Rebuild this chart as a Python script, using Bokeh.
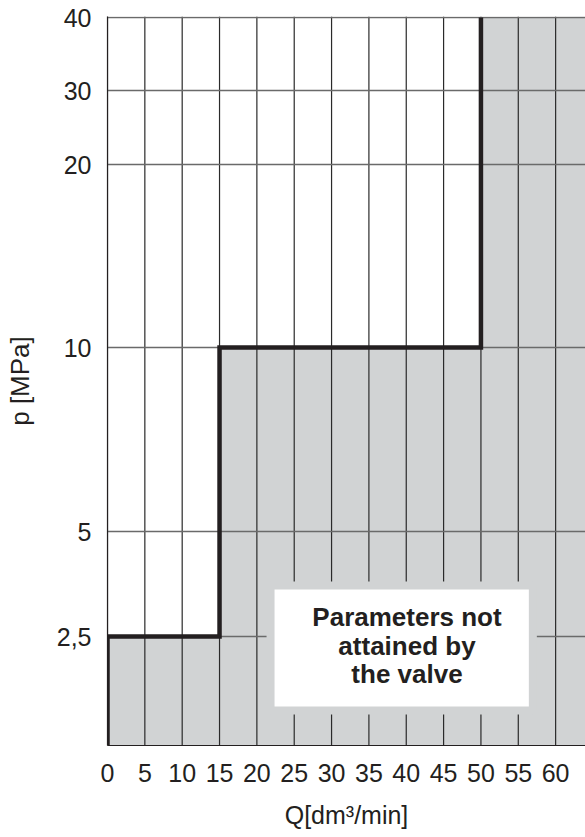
import numpy as np
from bokeh.plotting import figure
from bokeh.models import FixedTicker, Range1d
from bokeh.core.properties import value
from bokeh.embed import file_html
from bokeh.resources import INLINE

# ---- data ----
Q_TICKS = [0, 5, 10, 15, 20, 25, 30, 35, 40, 45, 50, 55, 60]
P_TICKS = [2.5, 5, 10, 20, 30, 40]
P_TICK_LABELS = ["2,5", "5", "10", "20", "30", "40"]
# boundary of attainable region: flow break points and max pressure levels
Q_BREAKS = [0, 15, 50]
P_LEVELS = [2.5, 10, 40]
# nonlinear pressure axis of the original diagram (value -> axis position)
P_SCALE_VALUES = [0, 2.5, 5, 10, 20, 30, 40]
P_SCALE_POS = [0, 109, 214, 398, 581, 655, 728]
NOTE = "Parameters not\nattained by\nthe valve"

X_MAX = 64
Y_TOP = 729

def ymap(v):
    return np.interp(v, P_SCALE_VALUES, P_SCALE_POS)

DARK = "#231f20"
GRAY = "#d1d3d4"
FONT = "Liberation Sans"

p = figure(width=585, height=837, x_range=Range1d(0, X_MAX), y_range=Range1d(0, Y_TOP),
           output_backend="svg", toolbar_location=None,
           min_border_left=107, min_border_right=0, min_border_top=16, min_border_bottom=92)
p.xgrid.visible = False
p.ygrid.visible = False
p.outline_line_color = None
p.background_fill_color = "white"

# step boundary path
step_x = [Q_BREAKS[0]]
step_y = [0.0]
for i in range(len(Q_BREAKS)):
    step_x.append(Q_BREAKS[i]); step_y.append(ymap(P_LEVELS[i]))
    if i + 1 < len(Q_BREAKS):
        step_x.append(Q_BREAKS[i + 1]); step_y.append(ymap(P_LEVELS[i]))

# gray not-attained region
fill_x = step_x + [X_MAX, X_MAX]
fill_y = step_y + [Y_TOP, 0.0]
p.patch(fill_x, fill_y, fill_color=GRAY, line_color=None)

# grid lines
ypos = [float(ymap(v)) for v in P_TICKS]
p.segment(x0=Q_TICKS, y0=[0] * len(Q_TICKS), x1=Q_TICKS, y1=[Y_TOP] * len(Q_TICKS),
          line_color="#2a2a2a", line_width=1.2)
p.segment(x0=[0] * len(ypos), y0=ypos, x1=[X_MAX] * len(ypos), y1=ypos,
          line_color="#6a6a6a", line_width=1.4)

# note box
p.quad(left=21.83, right=56.95, bottom=35, top=160, fill_color="white",
       line_color=GRAY, line_width=8)
p.text(x=[40.1], y=[100], text=[NOTE], text_font=value(FONT), text_font_style="bold",
       text_font_size="26px", text_color=DARK, text_align="center",
       text_baseline="middle", text_line_height=0.95)

# step line
p.line(step_x, step_y, line_color=DARK, line_width=4.5, line_join="miter")

# axes
p.xaxis.ticker = FixedTicker(ticks=Q_TICKS)
p.yaxis.ticker = FixedTicker(ticks=[int(round(v)) for v in ypos])
p.yaxis.major_label_overrides = {int(round(v)): lab for v, lab in zip(ypos, P_TICK_LABELS)}
for ax in (p.xaxis[0], p.yaxis[0]):
    ax.axis_line_color = DARK
    ax.axis_line_width = 1.2
    ax.major_tick_line_color = None
    ax.minor_tick_line_color = None
    ax.major_label_text_font = FONT
    ax.major_label_text_font_size = "25px"
    ax.major_label_text_color = DARK
    ax.axis_label_text_font = FONT
    ax.axis_label_text_font_size = "25px"
    ax.axis_label_text_font_style = "normal"
    ax.axis_label_text_color = DARK

p.xaxis.axis_label = "Q[dm³/min]"
p.yaxis.axis_label = "p [MPa]"
p.yaxis.axis_label_text_font_size = "26px"
p.xaxis.major_label_standoff = 12
p.xaxis.axis_label_standoff = 16
p.yaxis.major_label_standoff = 10
p.yaxis.axis_label_standoff = 19

open("out.html", "w").write(file_html(p, INLINE))
